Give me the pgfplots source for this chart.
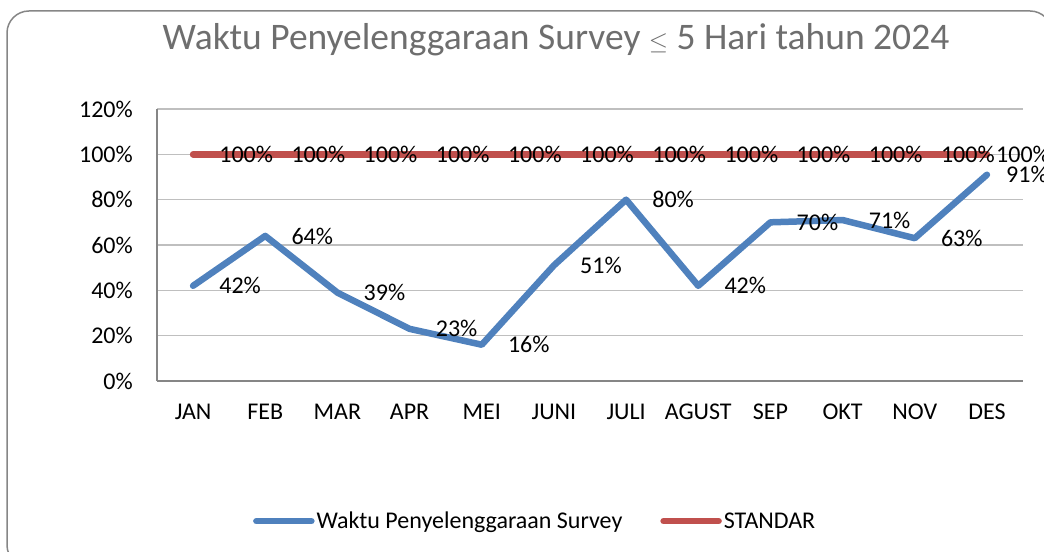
\documentclass[border=0pt]{standalone}
\usepackage{fontspec}
\setmainfont{Carlito}
\usepackage{pgfplots}
\pgfplotsset{compat=1.18}

\definecolor{serblue}{HTML}{4F81BD}
\definecolor{serred}{HTML}{C0504D}
\definecolor{gridgray}{HTML}{BFBFBF}
\definecolor{axisgray}{HTML}{868686}
\definecolor{titlegray}{HTML}{6E6E6E}

\begin{document}
\begin{tikzpicture}[x=1bp,y=1bp]
\path[use as bounding box] (0,0) rectangle (1044,552);
\draw[axisgray, line width=1.5bp, rounded corners=22bp] (7,-15) rectangle (1052,541);

\node[titlegray, font=\fontsize{37.5bp}{42bp}\selectfont] at (556,512)
  {Waktu Penyelenggaraan Survey $\leq$ 5 Hari tahun 2024};

\begin{axis}[
    scale only axis,
    width=866bp, height=272bp,
    at={(157bp,171bp)}, anchor=south west,
    xmin=0.5, xmax=12.5,
    ymin=0, ymax=120,
    ytick={0,20,...,120},
    xtick={1,...,12},
    xticklabels={JAN,FEB,MAR,APR,MEI,JUNI,JULI,AGUST,SEP,OKT,NOV,DES},
    yticklabel={\pgfmathprintnumber{\tick}\%},
    /pgf/number format/assume math mode=true,
    axis x line*=bottom, axis y line*=left,
    axis line style={axisgray, line width=1.5bp, -},
    major tick length=0pt,
    ymajorgrids, grid style={gridgray, line width=1.5bp},
    tick label style={font=\fontsize{24bp}{28bp}\selectfont, inner sep=0pt},
    yticklabel style={xshift=-24bp},
    xticklabel style={yshift=-23bp},
    clip=false,
    point meta=y,
    visualization depends on={\thisrow{dx} \as \dx},
    nodes near coords={\pgfmathprintnumber{\pgfplotspointmeta}\%},
    every node near coord/.append style={
        black, anchor=west, inner sep=0pt, xshift=\dx bp,
        font=\fontsize{24bp}{28bp}\selectfont},
    legend columns=2,
    legend style={draw=none, fill=none, inner sep=0pt, outer sep=0pt,
        at={(rel axis cs:0.111,-0.515)}, anchor=west,
        font=\fontsize{24bp}{28bp}\selectfont,
        /tikz/every even column/.append style={column sep=36bp}},
    legend image code/.code={\draw[#1, line cap=round] (0bp,0bp) -- (55bp,0bp);},
]
\addplot[serblue, line width=6.5bp, line join=round, line cap=round] table {
x y dx
1 42 23
2 64 23
3 39 23
4 23 23
5 16 23
6 51 23
7 80 23
8 42 23
9 70 23
10 71 23
11 63 23
12 91 16
};
\addplot[serred, line width=6.5bp, line cap=round] table {
x y dx
1 100 23
2 100 23
3 100 23
4 100 23
5 100 23
6 100 23
7 100 23
8 100 23
9 100 23
10 100 23
11 100 23
12 100 6
};
\legend{Waktu Penyelenggaraan Survey, STANDAR}
\end{axis}
\end{tikzpicture}
\end{document}
